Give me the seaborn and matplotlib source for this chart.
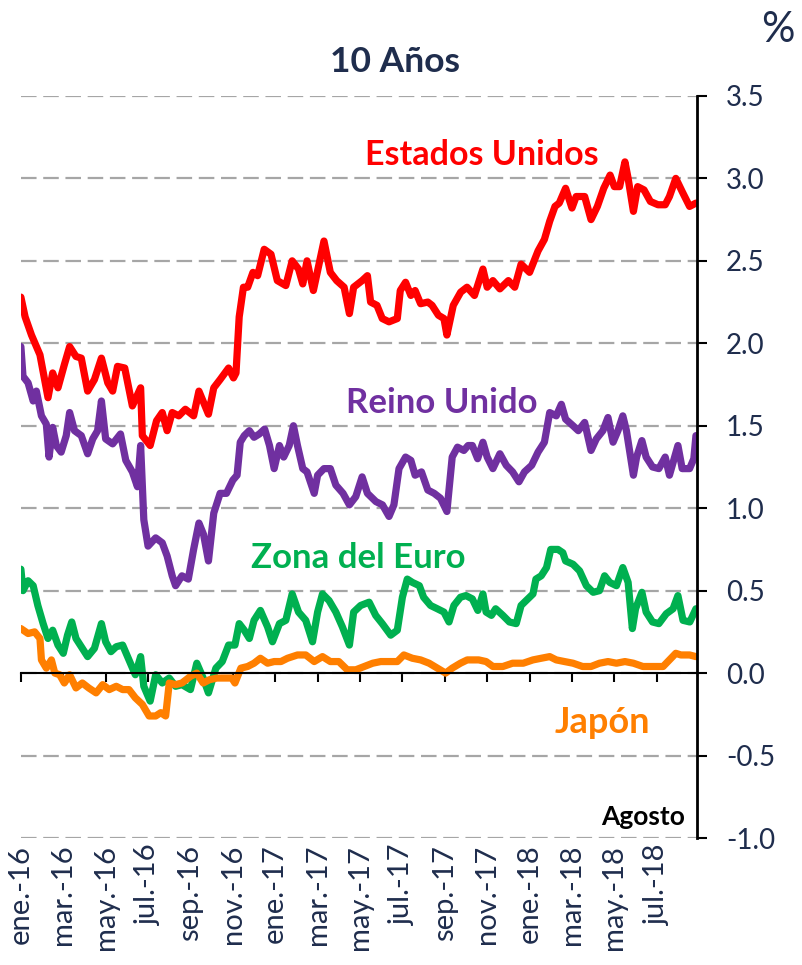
import numpy as np
import pandas as pd
import matplotlib
matplotlib.use("Agg")
import matplotlib.pyplot as plt
import matplotlib.transforms as mtransforms
import seaborn as sns

# months since ene.-16 (x) and 10y yields in % (y)
us_t = [0.0, 0.2, 0.5, 0.9, 1.28, 1.5, 1.75, 2.05, 2.3, 2.6, 2.85, 3.15, 3.47, 3.8, 4.1, 4.33,
        4.56, 4.9, 5.26, 5.65, 5.73, 6.1, 6.4, 6.67, 6.9, 7.14, 7.45, 7.76, 8.15, 8.4, 8.85,
        9.1, 9.4, 9.8, 10.03, 10.15, 10.3, 10.5, 10.7, 10.95, 11.17, 11.48, 11.8, 12.1, 12.5,
        12.8, 13.1, 13.3, 13.5, 13.8, 14.05, 14.3, 14.6, 14.9, 15.25, 15.5, 15.7, 16.1, 16.35,
        16.5, 16.8, 17.05, 17.37, 17.76, 17.9, 18.15, 18.4, 18.6, 18.86, 19.2, 19.4, 19.7,
        19.96, 20.1, 20.4, 20.75, 21.05, 21.4, 21.8, 22.0, 22.27, 22.6, 23.0, 23.3, 23.6, 24.0,
        24.4, 24.7, 24.95, 25.2, 25.4, 25.7, 26.0, 26.2, 26.6, 26.9, 27.2, 27.5, 27.8, 28.0,
        28.25, 28.5, 28.65, 28.9, 29.1, 29.4, 29.7, 30.06, 30.4, 30.6, 30.9, 31.2, 31.55, 31.85]
us_v = [2.28, 2.16, 2.05, 1.93, 1.67, 1.82, 1.73, 1.87, 1.98, 1.92, 1.91, 1.71, 1.78, 1.91, 1.76, 1.71,
        1.86, 1.85, 1.62, 1.73, 1.44, 1.38, 1.53, 1.58, 1.47, 1.58, 1.56, 1.60, 1.56, 1.71, 1.57,
        1.73, 1.78, 1.85, 1.79, 1.82, 2.16, 2.34, 2.34, 2.43, 2.41, 2.57, 2.54, 2.38, 2.35,
        2.50, 2.45, 2.36, 2.50, 2.32, 2.47, 2.62, 2.43, 2.38, 2.34, 2.18, 2.34, 2.38, 2.41,
        2.25, 2.23, 2.15, 2.13, 2.15, 2.32, 2.37, 2.29, 2.32, 2.24, 2.25, 2.23, 2.17,
        2.15, 2.05, 2.23, 2.31, 2.34, 2.29, 2.45, 2.34, 2.38, 2.33, 2.38, 2.34, 2.48, 2.43,
        2.56, 2.63, 2.74, 2.83, 2.85, 2.94, 2.82, 2.89, 2.89, 2.75, 2.83, 2.94, 3.02, 2.95,
        2.95, 3.10, 3.00, 2.80, 2.95, 2.93, 2.86, 2.84, 2.84, 2.89, 3.00, 2.92, 2.83, 2.85]

uk_t = [0.0, 0.1, 0.34, 0.58, 0.73, 0.97, 1.2, 1.33, 1.5, 1.67, 1.9, 2.14, 2.3, 2.53, 2.85, 3.15,
        3.39, 3.62, 3.8, 4.0, 4.33, 4.7, 4.95, 5.26, 5.5, 5.65, 5.8, 6.0, 6.36, 6.67, 6.9, 7.14,
        7.3, 7.6, 7.9, 8.15, 8.4, 8.62, 8.85, 9.1, 9.4, 9.7, 10.0, 10.2, 10.35, 10.54, 10.78,
        11.0, 11.25, 11.5, 11.73, 11.95, 12.2, 12.4, 12.66, 12.86, 13.05, 13.3, 13.5, 13.84,
        14.0, 14.3, 14.6, 14.86, 15.2, 15.5, 15.8, 16.1, 16.35, 16.75, 17.06, 17.37, 17.6,
        17.84, 18.15, 18.4, 18.6, 18.9, 19.2, 19.5, 19.8, 20.1, 20.35, 20.6, 20.9, 21.1, 21.3,
        21.55, 21.8, 22.0, 22.27, 22.6, 22.9, 23.2, 23.5, 23.76, 24.1, 24.4, 24.7, 24.95,
        25.26, 25.5, 25.7, 26.05, 26.3, 26.6, 26.9, 27.15, 27.46, 27.7, 27.94, 28.17, 28.4,
        28.57, 28.9, 29.05, 29.3, 29.5, 29.8, 30.1, 30.4, 30.6, 31.0, 31.2, 31.55, 31.75, 31.85]
uk_v = [1.98, 1.80, 1.76, 1.65, 1.71, 1.56, 1.51, 1.31, 1.49, 1.38, 1.34, 1.44, 1.58, 1.47, 1.44, 1.33,
        1.42, 1.47, 1.65, 1.42, 1.39, 1.45, 1.29, 1.22, 1.13, 1.38, 0.93, 0.77, 0.82, 0.79, 0.71, 0.59,
        0.53, 0.59, 0.57, 0.75, 0.91, 0.84, 0.68, 0.97, 1.09, 1.09, 1.17, 1.20, 1.40, 1.44, 1.47,
        1.43, 1.45, 1.48, 1.38, 1.24, 1.38, 1.31, 1.38, 1.50, 1.38, 1.24, 1.22, 1.09,
        1.20, 1.24, 1.24, 1.14, 1.09, 1.02, 1.07, 1.19, 1.09, 1.04, 1.02, 0.95, 1.02,
        1.24, 1.31, 1.29, 1.20, 1.22, 1.11, 1.09, 1.06, 0.98, 1.31, 1.37, 1.35, 1.38, 1.38,
        1.30, 1.40, 1.31, 1.24, 1.33, 1.26, 1.22, 1.16, 1.22, 1.26, 1.34, 1.40, 1.58,
        1.56, 1.63, 1.54, 1.50, 1.47, 1.52, 1.35, 1.42, 1.47, 1.55, 1.40, 1.47, 1.56,
        1.47, 1.20, 1.31, 1.41, 1.31, 1.25, 1.24, 1.31, 1.20, 1.38, 1.24, 1.24, 1.30, 1.44]

eu_t = [0.0, 0.1, 0.34, 0.58, 0.8, 1.05, 1.28, 1.5, 1.75, 2.0, 2.2, 2.4, 2.6, 2.85, 3.15, 3.47,
        3.8, 4.0, 4.25, 4.5, 4.8, 5.1, 5.4, 5.65, 5.8, 6.1, 6.36, 6.67, 7.0, 7.3, 7.6, 8.0, 8.3,
        8.6, 8.85, 9.2, 9.5, 9.8, 10.1, 10.3, 10.54, 10.78, 11.0, 11.3, 11.64, 11.87, 12.2,
        12.5, 12.8, 13.1, 13.44, 13.76, 14.0, 14.23, 14.54, 14.86, 15.17, 15.5, 15.7, 16.03,
        16.43, 16.74, 17.05, 17.45, 17.76, 18.0, 18.23, 18.47, 18.8, 19.0, 19.33, 19.65,
        19.96, 20.2, 20.43, 20.74, 21.0, 21.3, 21.56, 21.8, 21.95, 22.2, 22.4, 22.74, 23.05,
        23.37, 23.6, 23.92, 24.16, 24.3, 24.55, 24.8, 25.0, 25.34, 25.57, 25.7, 26.05, 26.36,
        26.68, 27.0, 27.3, 27.54, 27.78, 28.1, 28.4, 28.65, 28.85, 29.0, 29.3, 29.5, 29.8,
        30.1, 30.45, 30.77, 31.0, 31.24, 31.56, 31.85]
eu_v = [0.63, 0.50, 0.56, 0.53, 0.41, 0.30, 0.21, 0.26, 0.17, 0.12, 0.23, 0.31, 0.21, 0.16, 0.10, 0.15,
        0.30, 0.19, 0.13, 0.16, 0.17, 0.08, -0.01, 0.10, -0.08, -0.17, -0.01, -0.06, -0.03, -0.08, -0.07, -0.10, 0.06,
        -0.03, -0.12, 0.03, 0.07, 0.17, 0.17, 0.30, 0.26, 0.21, 0.32, 0.38, 0.28, 0.19, 0.30,
        0.32, 0.48, 0.37, 0.32, 0.19, 0.37, 0.48, 0.44, 0.37, 0.28, 0.17, 0.37, 0.41,
        0.43, 0.35, 0.30, 0.23, 0.26, 0.46, 0.57, 0.55, 0.53, 0.46, 0.41, 0.39,
        0.37, 0.31, 0.41, 0.46, 0.47, 0.45, 0.38, 0.48, 0.37, 0.35, 0.39, 0.35, 0.31,
        0.30, 0.41, 0.45, 0.48, 0.57, 0.59, 0.64, 0.75, 0.75, 0.73, 0.68, 0.66, 0.62,
        0.53, 0.49, 0.50, 0.59, 0.55, 0.53, 0.64, 0.55, 0.27, 0.39, 0.49, 0.37, 0.31,
        0.30, 0.36, 0.39, 0.47, 0.32, 0.31, 0.39]

jp_t = [0.0, 0.34, 0.65, 0.9, 0.97, 1.2, 1.44, 1.6, 1.83, 2.05, 2.3, 2.6, 2.9, 3.2, 3.55, 3.86,
        4.17, 4.5, 4.8, 5.1, 5.4, 5.73, 6.05, 6.36, 6.6, 6.83, 7.0, 7.3, 7.6, 8.0, 8.3, 8.6, 8.9,
        9.25, 9.64, 9.95, 10.1, 10.38, 10.7, 11.0, 11.3, 11.64, 11.95, 12.27, 12.58, 13.05,
        13.44, 13.84, 14.23, 14.6, 15.0, 15.4, 15.8, 16.2, 16.6, 16.98, 17.37, 17.76, 18.07,
        18.47, 18.86, 19.26, 19.65, 20.04, 20.35, 20.74, 21.06, 21.6, 21.95, 22.27, 22.74,
        23.2, 23.7, 24.16, 24.55, 24.95, 25.26, 25.65, 26.05, 26.5, 26.9, 27.3, 27.7, 28.1,
        28.5, 28.9, 29.35, 29.8, 30.3, 30.6, 30.9, 31.14, 31.55, 31.85]
jp_v = [0.27, 0.24, 0.25, 0.21, 0.08, 0.03, 0.08, 0.00, -0.01, -0.06, -0.01, -0.09, -0.06, -0.09, -0.12, -0.07,
        -0.10, -0.08, -0.10, -0.10, -0.15, -0.19, -0.26, -0.26, -0.24, -0.26, -0.06, -0.07, -0.06, -0.02, 0.00, -0.06, -0.04,
        -0.03, -0.03, -0.03, -0.06, 0.03, 0.04, 0.06, 0.09, 0.06, 0.07, 0.07, 0.09, 0.11,
        0.11, 0.07, 0.10, 0.07, 0.07, 0.02, 0.02, 0.04, 0.06, 0.07, 0.07, 0.07, 0.11,
        0.09, 0.08, 0.06, 0.03, 0.00, 0.03, 0.06, 0.08, 0.08, 0.07, 0.04, 0.04,
        0.06, 0.06, 0.08, 0.09, 0.10, 0.08, 0.07, 0.06, 0.04, 0.04, 0.06, 0.07, 0.06,
        0.07, 0.06, 0.04, 0.04, 0.04, 0.08, 0.12, 0.11, 0.11, 0.10]

tick_months = [0, 2, 4, 6, 8, 10, 12, 14, 16, 18, 20, 22, 24, 26, 28, 30]
tick_labels = ["ene.-16", "mar.-16", "may.-16", "jul.-16", "sep.-16", "nov.-16",
               "ene.-17", "mar.-17", "may.-17", "jul.-17", "sep.-17", "nov.-17",
               "ene.-18", "mar.-18", "may.-18", "jul.-18"]
y_ticks = [3.5, 3.0, 2.5, 2.0, 1.5, 1.0, 0.5, 0.0, -0.5, -1.0]
y_labels = ["3.5", "3.0", "2.5", "2.0", "1.5", "1.0", "0.5", "0.0", "-0.5", "-1.0"]

navy = "#1F2D4D"
sns.set_style("white")
plt.rcParams["font.family"] = ["Lato", "DejaVu Sans"]
plt.rcParams["axes.unicode_minus"] = False

fig = plt.figure(figsize=(8.03, 9.65), dpi=100)
ax = fig.add_axes([0.026, 0.1316, 0.842, 0.769])

series = [(us_t, us_v, "#FF0000"), (uk_t, uk_v, "#7030A0"),
          (eu_t, eu_v, "#00B050"), (jp_t, jp_v, "#FF7F00")]
for t, v, c in series:
    sns.lineplot(x=t, y=v, ax=ax, color=c, lw=5.2, sort=False, estimator=None)

ax.set_xlim(0, 31.9)
ax.set_ylim(-1.0, 3.5)

# y axis on the right
ax.yaxis.tick_right()
ax.set_yticks(y_ticks)
ax.set_yticklabels(y_labels, fontsize=20, color=navy)
ax.tick_params(axis="y", right=True, direction="out", length=7, width=1.5, color="black", pad=14)
ax.yaxis.grid(True, color="#A6A6A6", lw=1.6, linestyle=(0, (7, 3)))
ax.xaxis.grid(False)

# x axis line at zero
for s in ["top", "left"]:
    ax.spines[s].set_visible(False)
ax.spines["right"].set_color("black")
ax.spines["right"].set_linewidth(2)
ax.spines["bottom"].set_position(("data", 0))
ax.spines["bottom"].set_color("black")
ax.spines["bottom"].set_linewidth(1.5)
ax.set_xticks(tick_months)
ax.tick_params(axis="x", bottom=True, direction="out", length=6.5, width=1.5, color="black",
               labelbottom=False)
ax.set_xlabel("")
ax.set_ylabel("")

trans = mtransforms.blended_transform_factory(ax.transData, ax.transAxes)
for m, lab in zip(tick_months, tick_labels):
    ax.text(m, -0.009, lab, transform=trans, rotation=90, ha="center", va="top",
            fontsize=21, color=navy)

# labels
ax.text(21.75, 3.14, "Estados Unidos", color="#FF0000", fontsize=24.5, fontweight="bold", ha="center", va="center")
ax.text(19.86, 1.64, "Reino Unido", color="#7030A0", fontsize=25, fontweight="bold", ha="center", va="center")
ax.text(15.94, 0.70, "Zona del Euro", color="#00B050", fontsize=25, fontweight="bold", ha="center", va="center")
ax.text(27.45, -0.30, "Japón", color="#FF7F00", fontsize=26, fontweight="bold", ha="center", va="center")
ax.text(29.34, -0.87, "Agosto", color="black", fontsize=19, fontweight="bold", ha="center", va="center")

fig.text(395 / 803, 1 - 62 / 965, "10 Años", ha="center", va="center", fontsize=25.5,
         fontweight="bold", color=navy)
fig.text(778 / 803, 1 - 30 / 965, "%", ha="center", va="center", fontsize=30, color=navy)

fig.savefig("out.png", dpi=100)
